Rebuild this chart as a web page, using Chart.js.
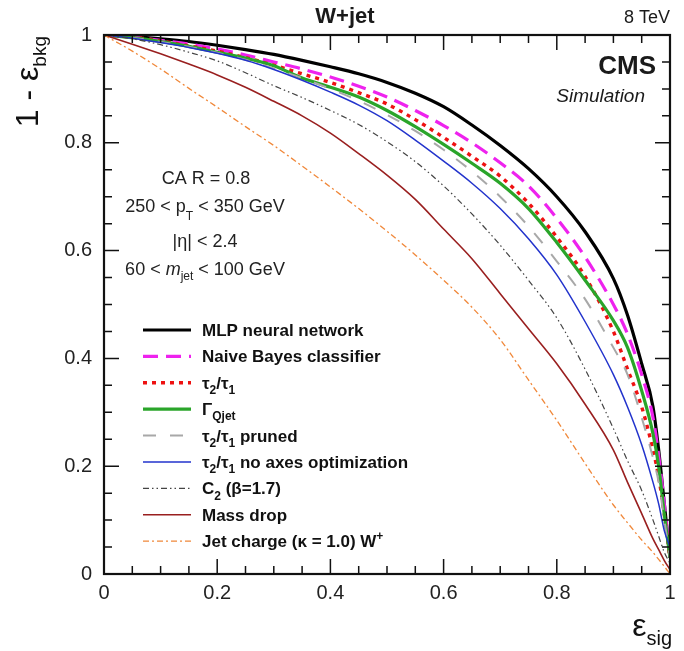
<!DOCTYPE html>
<html>
<head>
<meta charset="utf-8">
<script src="https://cdn.jsdelivr.net/npm/chart.js@4.4.1/dist/chart.umd.min.js"></script>
<style>
  html, body { margin: 0; padding: 0; background: #fff; }
  canvas { display: block; }
</style>
</head>
<body>
<canvas id="roc" width="684" height="651"></canvas>
<script>
// signal efficiency points (x) shared by all curves
const sigEff = [0, 0.05, 0.1, 0.15, 0.2, 0.25, 0.3, 0.35, 0.4, 0.45, 0.5, 0.55, 0.6,
  0.65, 0.7, 0.75, 0.8, 0.85, 0.9, 0.925, 0.95, 0.97, 0.98, 0.99, 1.0];

// background rejection 1 - eff_bkg for each tagger
const mlp      = [1.0, 0.997, 0.993, 0.988, 0.981, 0.973, 0.964, 0.953, 0.941, 0.928, 0.912, 0.892, 0.867,
  0.833, 0.795, 0.752, 0.70, 0.635, 0.548, 0.48, 0.39, 0.31, 0.23, 0.13, 0.03];
const bayes    = [1.0, 0.996, 0.99, 0.983, 0.974, 0.963, 0.95, 0.937, 0.922, 0.905, 0.885, 0.86, 0.832,
  0.80, 0.763, 0.72, 0.66, 0.588, 0.50, 0.445, 0.37, 0.29, 0.22, 0.13, 0.03];
const tau21    = [1.0, 0.996, 0.989, 0.98, 0.97, 0.958, 0.944, 0.928, 0.912, 0.893, 0.872, 0.843, 0.81,
  0.775, 0.738, 0.688, 0.625, 0.552, 0.45, 0.38, 0.31, 0.23, 0.18, 0.11, 0.03];
const qjet     = [1.0, 0.995, 0.988, 0.979, 0.968, 0.957, 0.943, 0.92, 0.903, 0.885, 0.86, 0.83, 0.797,
  0.762, 0.725, 0.678, 0.615, 0.545, 0.47, 0.42, 0.34, 0.26, 0.20, 0.11, 0.03];
const tau21Pr  = [1.0, 0.995, 0.987, 0.978, 0.967, 0.954, 0.938, 0.92, 0.90, 0.878, 0.852, 0.822, 0.787,
  0.747, 0.70, 0.645, 0.58, 0.51, 0.42, 0.37, 0.29, 0.215, 0.17, 0.10, 0.03];
const tau21NoA = [1.0, 0.994, 0.986, 0.977, 0.966, 0.953, 0.936, 0.916, 0.894, 0.87, 0.841, 0.805, 0.766,
  0.725, 0.678, 0.622, 0.555, 0.468, 0.37, 0.31, 0.24, 0.17, 0.13, 0.08, 0.05];
const c2       = [1.0, 0.993, 0.982, 0.968, 0.952, 0.93, 0.906, 0.884, 0.86, 0.834, 0.802, 0.765, 0.72,
  0.668, 0.61, 0.545, 0.475, 0.38, 0.27, 0.21, 0.155, 0.10, 0.07, 0.04, 0.02];
const massDrop = [1.0, 0.983, 0.965, 0.946, 0.926, 0.903, 0.877, 0.85, 0.818, 0.78, 0.74, 0.695, 0.64,
  0.585, 0.52, 0.455, 0.39, 0.315, 0.23, 0.17, 0.112, 0.065, 0.045, 0.025, 0.008];
const jetCharge = [1.0, 0.97, 0.937, 0.901, 0.866, 0.83, 0.795, 0.757, 0.718, 0.678, 0.636, 0.592, 0.545,
  0.495, 0.435, 0.36, 0.285, 0.205, 0.128, 0.095, 0.063, 0.04, 0.027, 0.014, 0.0];

// legend labels as [text, kind] runs: n = normal, b = subscript, p = superscript
const labels = [
  [['MLP neural network', 'n']],
  [['Naive Bayes classifier', 'n']],
  [['τ', 'n'], ['2', 'b'], ['/τ', 'n'], ['1', 'b']],
  [['Γ', 'n'], ['Qjet', 'b']],
  [['τ', 'n'], ['2', 'b'], ['/τ', 'n'], ['1', 'b'], [' pruned', 'n']],
  [['τ', 'n'], ['2', 'b'], ['/τ', 'n'], ['1', 'b'], [' no axes optimization', 'n']],
  [['C', 'n'], ['2', 'b'], [' (β=1.7)', 'n']],
  [['Mass drop', 'n']],
  [['Jet charge (κ = 1.0) W', 'n'], ['+', 'p']]
];
const series = [mlp, bayes, tau21, qjet, tau21Pr, tau21NoA, c2, massDrop, jetCharge];

const styles = [
  { color: '#000000', width: 3.2, dash: [] },
  { color: '#ee22ee', width: 3.2, dash: [15, 8] },
  { color: '#ee1111', width: 3.4, dash: [4, 5] },
  { color: '#2aa52a', width: 3.2, dash: [] },
  { color: '#a8a8a8', width: 2, dash: [13, 14] },
  { color: '#2233cc', width: 1.5, dash: [] },
  { color: '#444444', width: 1.2, dash: [6, 3, 1.5, 3, 1.5, 3] },
  { color: '#991f1f', width: 1.6, dash: [] },
  { color: '#f0883a', width: 1.3, dash: [6, 3, 2, 3] }
];

const FONT = '"Liberation Sans", Arial, Helvetica, sans-serif';

function richText(ctx, x, y, parts, o) {
  const size = o.size;
  const font = k => `${o.style || 'normal'} ${o.weight || 'normal'} ${k === 'n' ? size : Math.round(size * (o.subScale || 0.68))}px ${FONT}`;
  let w = 0;
  parts.forEach(([t, k]) => { ctx.font = font(k); w += ctx.measureText(t).width; });
  let cx = o.align === 'center' ? x - w / 2 : o.align === 'right' ? x - w : x;
  ctx.textAlign = 'left';
  ctx.textBaseline = 'alphabetic';
  ctx.fillStyle = o.color || '#1a1a1a';
  parts.forEach(([t, k]) => {
    ctx.font = font(k);
    const dy = k === 'b' ? size * (o.subDrop || 0.3) : k === 'p' ? -size * 0.42 : 0;
    ctx.fillText(t, cx, y + dy);
    cx += ctx.measureText(t).width;
  });
}

// frame, inward ticks, texts and legend
const decor = {
  id: 'decor',
  afterDraw(chart) {
    const ctx = chart.ctx;
    const { left, right, top, bottom } = chart.chartArea;
    const xs = chart.scales.x, ys = chart.scales.y;
    ctx.save();
    ctx.strokeStyle = '#111';
    ctx.lineWidth = 1.5;
    for (let i = 0; i <= 20; i++) {
      const v = i * 0.05;
      const len = i % 4 === 0 ? 15 : 8;
      const px = xs.getPixelForValue(v), py = ys.getPixelForValue(v);
      ctx.beginPath();
      ctx.moveTo(px, bottom); ctx.lineTo(px, bottom - len);
      ctx.moveTo(px, top); ctx.lineTo(px, top + len);
      ctx.moveTo(left, py); ctx.lineTo(left + len, py);
      ctx.moveTo(right, py); ctx.lineTo(right - len, py);
      ctx.stroke();
    }
    ctx.lineWidth = 2.2;
    ctx.strokeRect(left, top, right - left, bottom - top);

    // headline and experiment tag
    richText(ctx, 345, 23, [['W+jet', 'n']], { size: 22, weight: 'bold', align: 'center' });
    richText(ctx, 670, 23, [['8 TeV', 'n']], { size: 18, align: 'right' });
    richText(ctx, 656, 74, [['CMS', 'n']], { size: 26, weight: 'bold', align: 'right' });
    richText(ctx, 645, 102, [['Simulation', 'n']], { size: 19, style: 'italic', align: 'right' });

    // selection
    const sel = { size: 18, align: 'center', color: '#222' };
    richText(ctx, 206, 184, [['CA R = 0.8', 'n']], sel);
    richText(ctx, 205, 212, [['250 < p', 'n'], ['T', 'b'], [' < 350 GeV', 'n']], { ...sel, subDrop: 0.45 });
    richText(ctx, 205, 247, [['|η| < 2.4', 'n']], sel);
    // m_jet line with italic m
    ctx.font = `normal 18px ${FONT}`;
    const a = ctx.measureText('60 < ').width;
    ctx.font = `italic 18px ${FONT}`;
    const m = ctx.measureText('m').width;
    ctx.font = `normal 12px ${FONT}`;
    const j = ctx.measureText('jet').width;
    ctx.font = `normal 18px ${FONT}`;
    const b = ctx.measureText(' < 100 GeV').width;
    let cx = 205 - (a + m + j + b) / 2;
    ctx.fillStyle = '#222';
    ctx.fillText('60 < ', cx, 275); cx += a;
    ctx.font = `italic 18px ${FONT}`;
    ctx.fillText('m', cx, 275); cx += m;
    ctx.font = `normal 12px ${FONT}`;
    ctx.fillText('jet', cx, 280); cx += j;
    ctx.font = `normal 18px ${FONT}`;
    ctx.fillText(' < 100 GeV', cx, 275);

    // legend
    labels.forEach((parts, i) => {
      const yc = 330 + i * 26.4;
      const s = styles[i];
      ctx.beginPath();
      ctx.strokeStyle = s.color;
      ctx.lineWidth = s.width;
      ctx.setLineDash(s.dash);
      ctx.moveTo(143, yc); ctx.lineTo(191, yc);
      ctx.stroke();
      ctx.setLineDash([]);
      richText(ctx, 202, yc + 6, parts, { size: 17, weight: 'bold', color: '#111' });
    });

    // axis titles
    richText(ctx, 672, 636, [['ε', 'n'], ['sig', 'b']], { size: 32, color: '#111', align: 'right', subScale: 0.62, subDrop: 0.28 });
    ctx.save();
    ctx.translate(38, 36);
    ctx.rotate(-Math.PI / 2);
    richText(ctx, 0, 0, [['1 - ε', 'n'], ['bkg', 'b']], { size: 32, color: '#111', align: 'right', subScale: 0.6, subDrop: 0.26 });
    ctx.restore();
    ctx.restore();
  }
};

const datasets = series.map((vals, i) => ({
  label: labels[i].map(p => p[0]).join(''),
  data: sigEff.map((x, k) => ({ x: x, y: vals[k] })),
  borderColor: styles[i].color,
  borderWidth: styles[i].width,
  borderDash: styles[i].dash,
  pointRadius: 0,
  fill: false,
  cubicInterpolationMode: 'monotone',
  order: 9 - i
}));

const tickText = v => (v === 0 || v === 1) ? String(v) : v.toFixed(1);

new Chart(document.getElementById('roc').getContext('2d'), {
  type: 'line',
  data: { datasets: datasets },
  options: {
    responsive: false,
    animation: false,
    layout: { padding: { top: 35, right: 14, left: 0, bottom: 0 } },
    plugins: { legend: { display: false }, tooltip: { enabled: false } },
    scales: {
      x: {
        type: 'linear', min: 0, max: 1,
        grid: { display: false }, border: { display: false },
        ticks: { stepSize: 0.2, padding: -1, color: '#222', font: { family: FONT, size: 20 }, maxRotation: 0, callback: tickText },
        afterFit(s) { s.height = 77; }
      },
      y: {
        type: 'linear', min: 0, max: 1,
        grid: { display: false }, border: { display: false },
        ticks: { stepSize: 0.2, padding: 4, color: '#222', font: { family: FONT, size: 20 }, callback: tickText },
        afterFit(s) { s.width = 104; }
      }
    }
  },
  plugins: [decor]
});
</script>
</body>
</html>
